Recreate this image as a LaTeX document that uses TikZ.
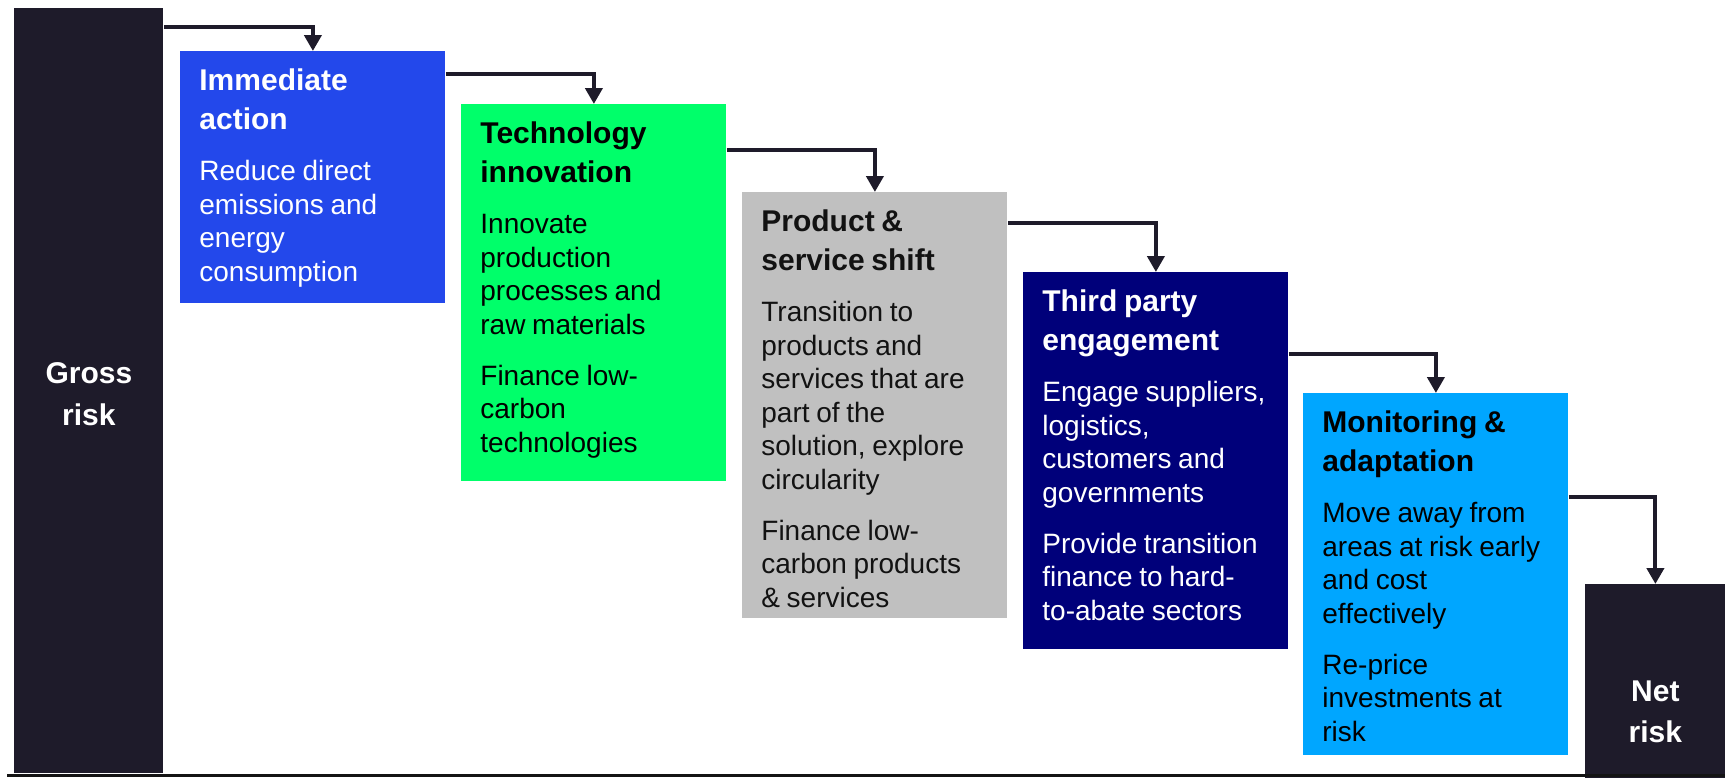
\documentclass[tikz,border=0pt]{standalone}
\usepackage{fontspec}
\setmainfont{Liberation Sans}
\usetikzlibrary{arrows.meta}
\definecolor{dark}{RGB}{30,27,42}
\definecolor{cblue}{RGB}{35,72,235}
\definecolor{cgreen}{RGB}{0,255,106}
\definecolor{cgray}{RGB}{192,192,192}
\definecolor{cnavy}{RGB}{0,0,122}
\definecolor{clight}{RGB}{0,166,255}
\newcommand{\titlef}{\fontsize{15}{19.5}\selectfont\bfseries}
\newcommand{\bodyf}{\fontsize{14}{16.8}\selectfont}
\newcommand{\pgap}{\par\vspace{8.6pt}}
\tikzset{
  stepbox/.style={rectangle, inner sep=0pt, minimum width=132.5pt, anchor=north west},
  txt/.style={anchor=north west, inner sep=0pt, text width=122pt, align=left},
  endbox/.style={fill=dark, inner sep=0pt, anchor=north west, text=white, align=center, font=\fontsize{15}{20.5}\selectfont\bfseries},
  arr/.style={draw=dark, line width=2pt, -{Triangle[width=8.5pt,length=8pt]}},
}
\begin{document}
\begin{tikzpicture}[x=0.5pt,y=-0.5pt]
\useasboundingbox (0,0) rectangle (1725,777);
\clip (0,0) rectangle (1725,777);
% end bars
\node[endbox, minimum width=74.5pt, minimum height=382.5pt] (gross) at (14,8) {\raisebox{-2.5pt}[\height][\depth]{\begin{tabular}{@{}c@{}}Gross\\[0.5pt]risk\end{tabular}}};
\node[endbox, minimum width=70pt, minimum height=127pt] (net) at (1585,584) {Net\\risk};
% step boxes
\node[stepbox, fill=cblue,  minimum height=126pt]   (b1) at (180,51) {};
\node[stepbox, fill=cgreen, minimum height=188.5pt] (b2) at (461,104) {};
\node[stepbox, fill=cgray,  minimum height=213pt]   (b3) at (742,192) {};
\node[stepbox, fill=cnavy,  minimum height=188.5pt] (b4) at (1023,272) {};
\node[stepbox, fill=clight, minimum height=181pt]   (b5) at (1303,393) {};
% texts
\node[txt, text=white] (t1) at ([xshift=9.5pt,yshift=-8.75pt]b1.north west)
 {{\titlef Immediate\\action\par}\pgap
  {\bodyf Reduce direct\\emissions and\\energy\\consumption\par}};
\node[txt, text=black] (t2) at ([xshift=9.5pt,yshift=-8.75pt]b2.north west)
 {{\titlef Technology\\innovation\par}\pgap
  {\bodyf Innovate\\production\\processes and\\raw materials\par}\pgap
  {\bodyf Finance low-\\carbon\\technologies\par}};
\node[txt, text=black!93] (t3) at ([xshift=9.5pt,yshift=-8.75pt]b3.north west)
 {{\titlef Product \&\\service shift\par}\pgap
  {\bodyf Transition to\\products and\\services that are\\part of the\\solution, explore\\circularity\par}\pgap
  {\bodyf Finance low-\\carbon products\\\& services\par}};
\node[txt, text=white] (t4) at ([xshift=9.5pt,yshift=-8.75pt]b4.north west)
 {{\titlef Third party\\engagement\par}\pgap
  {\bodyf Engage suppliers,\\logistics,\\customers and\\governments\par}\pgap
  {\bodyf Provide transition\\finance to hard-\\to-abate sectors\par}};
\node[txt, text=black] (t5) at ([xshift=9.5pt,yshift=-8.75pt]b5.north west)
 {{\titlef Monitoring \&\\adaptation\par}\pgap
  {\bodyf Move away from\\areas at risk early\\and cost\\effectively\par}\pgap
  {\bodyf Re-price\\investments at\\risk\par}};
% connectors
\draw[arr] (gross.north east) ++(0,19) -| (b1.north);
\draw[arr] (b1.north east) ++(0,23) -| (b2.north);
\draw[arr] (b2.north east) ++(0,46) -| (b3.north);
\draw[arr] (b3.north east) ++(0,31) -| (b4.north);
\draw[arr] (b4.north east) ++(0,82) -| (b5.north);
\draw[arr] (b5.north east) ++(0,104) -| (net.north);
% baseline
\draw[line width=1.5pt, draw=black!92] (7,775.5) -- (1725,775.5);
\end{tikzpicture}
\end{document}
